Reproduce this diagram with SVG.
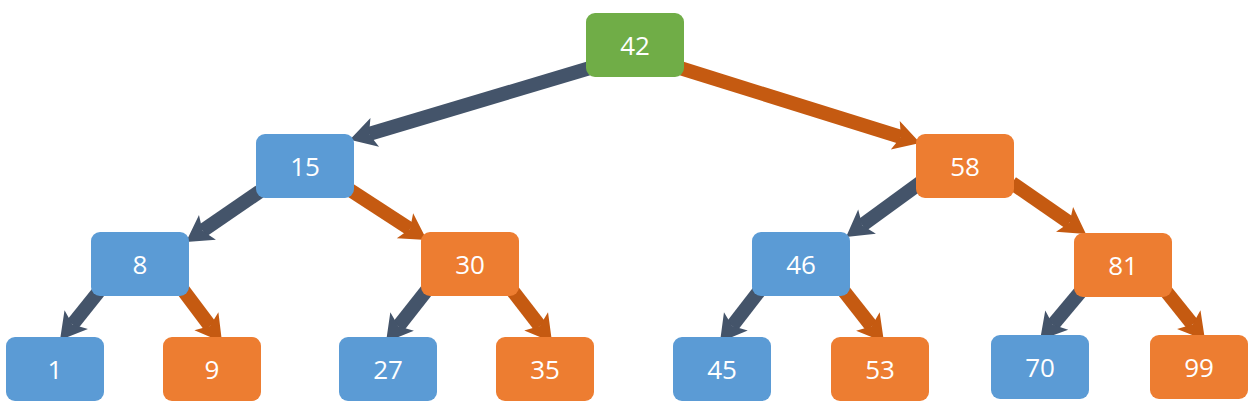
<svg xmlns="http://www.w3.org/2000/svg" width="1254" height="406" viewBox="0 0 1254 406">
<style>
.n rect{rx:9px;}
.g{fill:#70AD47}.b{fill:#5B9BD5}.o{fill:#ED7D31}
text{font-family:"Open Sans","Noto Sans",sans-serif;font-size:26px;fill:#fff;text-anchor:middle;dominant-baseline:central}
.cd{stroke:#44546A;stroke-width:14;fill:none;marker-end:url(#ad)}
.co{stroke:#C55A11;stroke-width:14;fill:none;marker-end:url(#ao)}
</style>
<defs>
<marker id="ad" markerUnits="userSpaceOnUse" viewBox="0 -16 28 32" markerWidth="28" markerHeight="32" refX="6" refY="0" orient="auto" overflow="visible"><path d="M26,0 L0,-15 L6,0 L0,15 Z" fill="#44546A"/></marker>
<marker id="ao" markerUnits="userSpaceOnUse" viewBox="0 -16 28 32" markerWidth="28" markerHeight="32" refX="6" refY="0" orient="auto" overflow="visible"><path d="M26,0 L0,-15 L6,0 L0,15 Z" fill="#C55A11"/></marker>
</defs>
<g id="connectors">
<line class="cd" x1="590" y1="68" x2="369" y2="134"/>
<line class="co" x1="680" y1="68" x2="901" y2="137"/>
<line class="cd" x1="262" y1="190" x2="202.5" y2="230.7"/>
<line class="co" x1="350" y1="190" x2="410" y2="229"/>
<line class="cd" x1="100" y1="290" x2="72.5" y2="324.4"/>
<line class="co" x1="183" y1="290" x2="210" y2="326"/>
<line class="cd" x1="427" y1="290" x2="398.4" y2="326.3"/>
<line class="co" x1="512" y1="290" x2="539.8" y2="326.1"/>
<line class="cd" x1="760" y1="290" x2="732.2" y2="326.1"/>
<line class="co" x1="843" y1="290" x2="871.6" y2="326.3"/>
<line class="cd" x1="920" y1="183" x2="862.2" y2="225.2"/>
<line class="co" x1="1012" y1="183" x2="1069.5" y2="222.7"/>
<line class="cd" x1="1082" y1="290" x2="1052.9" y2="324.7"/>
<line class="co" x1="1165" y1="290" x2="1192.5" y2="324.4"/>
</g>
<g id="n42" class="n"><rect class="g" x="586" y="13" width="98" height="64"/><text x="635" y="45">42</text></g>
<g id="n15" class="n"><rect class="b" x="256" y="134" width="98" height="64"/><text x="305" y="166">15</text></g>
<g id="n58" class="n"><rect class="o" x="916" y="134" width="98" height="64"/><text x="965" y="166">58</text></g>
<g id="n8" class="n"><rect class="b" x="91" y="232" width="98" height="64"/><text x="140" y="264">8</text></g>
<g id="n30" class="n"><rect class="o" x="421" y="232" width="98" height="64"/><text x="470" y="264">30</text></g>
<g id="n46" class="n"><rect class="b" x="752" y="232" width="98" height="64"/><text x="801" y="264">46</text></g>
<g id="n81" class="n"><rect class="o" x="1074" y="233" width="98" height="64"/><text x="1123" y="265">81</text></g>
<g id="n1" class="n"><rect class="b" x="6" y="337" width="98" height="64"/><text x="55" y="369">1</text></g>
<g id="n9" class="n"><rect class="o" x="163" y="337" width="98" height="64"/><text x="212" y="369">9</text></g>
<g id="n27" class="n"><rect class="b" x="339" y="337" width="98" height="64"/><text x="388" y="369">27</text></g>
<g id="n35" class="n"><rect class="o" x="496" y="337" width="98" height="64"/><text x="545" y="369">35</text></g>
<g id="n45" class="n"><rect class="b" x="673" y="337" width="98" height="64"/><text x="722" y="369">45</text></g>
<g id="n53" class="n"><rect class="o" x="831" y="337" width="98" height="64"/><text x="880" y="369">53</text></g>
<g id="n70" class="n"><rect class="b" x="991" y="335" width="98" height="64"/><text x="1040" y="367">70</text></g>
<g id="n99" class="n"><rect class="o" x="1150" y="335" width="98" height="64"/><text x="1199" y="367">99</text></g>
</svg>
